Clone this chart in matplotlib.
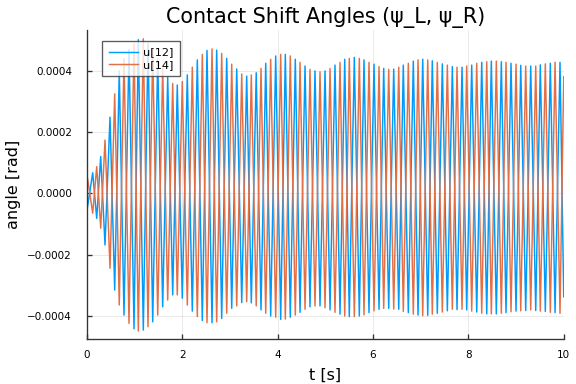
import matplotlib
matplotlib.use("Agg")
import matplotlib.pyplot as plt

# Times (s) of successive half-period extrema
t_ext = [0.013, 0.126, 0.210, 0.294, 0.384, 0.489, 0.587, 0.683, 0.782, 0.887,
         0.992, 1.082, 1.187, 1.285, 1.384, 1.489, 1.593, 1.698, 1.803, 1.899,
         2.004, 2.109, 2.214, 2.319, 2.424, 2.522, 2.627, 2.725, 2.830, 2.935,
         3.040, 3.145, 3.250, 3.354, 3.451, 3.554, 3.654, 3.753, 3.857, 3.962,
         4.067, 4.164, 4.268, 4.373, 4.472, 4.577, 4.681, 4.786, 4.891, 4.996,
         5.101, 5.205, 5.310, 5.409, 5.505, 5.610, 5.715, 5.813, 5.918, 6.023,
         6.128, 6.226, 6.331, 6.436, 6.541, 6.637, 6.742, 6.847, 6.946, 7.044,
         7.149, 7.245, 7.350, 7.455, 7.560, 7.665, 7.763, 7.868, 7.966, 8.071,
         8.176, 8.281, 8.386, 8.482, 8.587, 8.692, 8.790, 8.895, 9.000, 9.099,
         9.203, 9.308, 9.413, 9.509, 9.614, 9.719, 9.818, 9.922]

# Upper envelope: peak value at each extremum time (u[14] on even, u[12] on odd)
top_vals = [0.000054, 0.000067, 0.000087, 0.000120, 0.000174, 0.000249, 0.000325, 0.000400, 0.000440, 0.000470,
            0.000490, 0.000502, 0.000505, 0.000490, 0.000470, 0.000440, 0.000410, 0.000380, 0.000359, 0.000354,
            0.000365, 0.000387, 0.000412, 0.000436, 0.000454, 0.000467, 0.000472, 0.000468, 0.000457, 0.000441,
            0.000422, 0.000406, 0.000390, 0.000383, 0.000387, 0.000394, 0.000408, 0.000425, 0.000438, 0.000449,
            0.000454, 0.000454, 0.000449, 0.000438, 0.000428, 0.000416, 0.000405, 0.000400, 0.000397, 0.000400,
            0.000408, 0.000419, 0.000428, 0.000438, 0.000441, 0.000444, 0.000441, 0.000436, 0.000428, 0.000422,
            0.000414, 0.000408, 0.000405, 0.000406, 0.000412, 0.000419, 0.000425, 0.000432, 0.000436, 0.000438,
            0.000436, 0.000433, 0.000428, 0.000423, 0.000419, 0.000414, 0.000412, 0.000412, 0.000416, 0.000419,
            0.000425, 0.000428, 0.000430, 0.000432, 0.000432, 0.000430, 0.000428, 0.000425, 0.000422, 0.000418,
            0.000416, 0.000416, 0.000416, 0.000420, 0.000423, 0.000425, 0.000428, 0.000428]

# Lower envelope: trough value at each extremum time (u[12] on even, u[14] on odd)
bot_vals = [-0.000049, -0.000065, -0.000082, -0.000114, -0.000169, -0.000245, -0.000316, -0.000365, -0.000398, -0.000425,
            -0.000443, -0.000450, -0.000447, -0.000436, -0.000420, -0.000398, -0.000371, -0.000349, -0.000332, -0.000332,
            -0.000343, -0.000365, -0.000385, -0.000403, -0.000416, -0.000423, -0.000423, -0.000420, -0.000409, -0.000392,
            -0.000376, -0.000368, -0.000357, -0.000354, -0.000358, -0.000368, -0.000381, -0.000392, -0.000401, -0.000405,
            -0.000412, -0.000411, -0.000405, -0.000398, -0.000389, -0.000379, -0.000371, -0.000368, -0.000368, -0.000374,
            -0.000381, -0.000389, -0.000395, -0.000401, -0.000403, -0.000403, -0.000401, -0.000397, -0.000390, -0.000384,
            -0.000379, -0.000376, -0.000376, -0.000378, -0.000379, -0.000386, -0.000390, -0.000395, -0.000398, -0.000400,
            -0.000399, -0.000395, -0.000392, -0.000388, -0.000384, -0.000379, -0.000380, -0.000379, -0.000381, -0.000385,
            -0.000388, -0.000392, -0.000394, -0.000394, -0.000394, -0.000392, -0.000390, -0.000387, -0.000385, -0.000384,
            -0.000383, -0.000381, -0.000383, -0.000385, -0.000386, -0.000389, -0.000390, -0.000392]

# Start (t=0) and end (t=10) values
t_start, t_end = 0.0, 10.0
u12_start, u12_end = -0.000010, -0.000338
u14_start, u14_end = 0.000020, 0.000381

series_names = ["u[12]", "u[14]"]
colors = ["#009AFA", "#E36F47"]

t = [t_start] + t_ext + [t_end]
u12 = [u12_start] + [top_vals[j] if j % 2 == 1 else bot_vals[j] for j in range(len(t_ext))] + [u12_end]
u14 = [u14_start] + [top_vals[j] if j % 2 == 0 else bot_vals[j] for j in range(len(t_ext))] + [u14_end]

plt.rcParams['font.family'] = ['DejaVu Sans']
fig = plt.figure(figsize=(6, 4), dpi=96)
ax = fig.add_axes([0.1505, 0.1172, 0.8282, 0.8047])

ax.plot(t, u12, color=colors[0], lw=1.1, label=series_names[0])
ax.plot(t, u14, color=colors[1], lw=1.1, label=series_names[1])

ax.set_xlim(0, 10)
ax.set_ylim(-0.0004761, 0.0005337)
ax.set_xticks([0, 2, 4, 6, 8, 10])
ax.set_yticks([-0.0004, -0.0002, 0.0, 0.0002, 0.0004])
ax.set_yticklabels(["\u22120.0004", "\u22120.0002", "0.0000", "0.0002", "0.0004"])

ax.grid(True, color="black", alpha=0.1, lw=0.6)
for s in ["top", "right"]:
    ax.spines[s].set_visible(False)
for s in ["left", "bottom"]:
    ax.spines[s].set_color("#333333")
    ax.spines[s].set_linewidth(1.0)
ax.tick_params(direction="in", length=4, width=1, colors="#333333", labelcolor="black", labelsize=7.8)
ax.tick_params(axis="y", pad=11)
ax.tick_params(axis="x", pad=8)

ax.set_title("Contact Shift Angles (\u03c8_L, \u03c8_R)", fontsize=15.5, pad=5)
ax.set_xlabel("t [s]", fontsize=12, labelpad=6)
ax.set_ylabel("angle [rad]", fontsize=12, labelpad=5)

leg = ax.legend(loc="upper left", bbox_to_anchor=(0.033, 0.965), borderaxespad=0,
                fontsize=8.4, frameon=True, fancybox=False, handlelength=2.6,
                borderpad=0.6, labelspacing=0.2, handletextpad=0.45)
leg.get_frame().set_edgecolor("#333333")
leg.get_frame().set_linewidth(1.0)

fig.savefig("out.png", dpi=96)
